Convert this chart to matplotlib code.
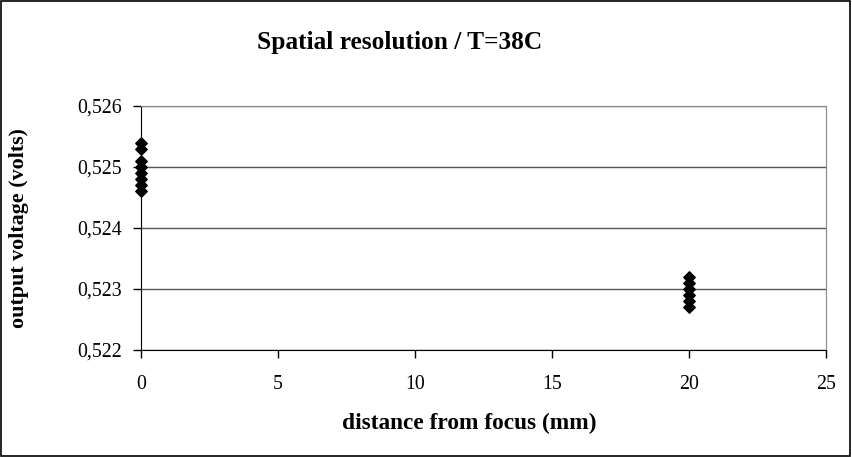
import matplotlib.pyplot as plt
from matplotlib.ticker import FuncFormatter
from matplotlib.patches import Rectangle

# measured output voltage at two distances from focus
dist_0 = [0, 0, 0, 0, 0, 0, 0, 0]
volts_0 = [0.5254, 0.5253, 0.5251, 0.5250, 0.5249, 0.5248, 0.5247, 0.5246]
dist_20 = [20, 20, 20, 20, 20, 20]
volts_20 = [0.5232, 0.5231, 0.5230, 0.5229, 0.5228, 0.5227]

x_ticks = [0, 5, 10, 15, 20, 25]
y_ticks = [0.522, 0.523, 0.524, 0.525, 0.526]

plt.rcParams['font.family'] = ['Liberation Serif', 'DejaVu Serif']

W, H = 852, 457
fig = plt.figure(figsize=(W / 100, H / 100), dpi=100)
fig.patches.append(Rectangle((0.001, 0.002), 0.997, 0.995, transform=fig.transFigure,
                             fill=False, edgecolor='black', linewidth=1.2))
ax = fig.add_axes([141 / W, 1 - 350 / H, 685 / W, 244 / H])

ax.scatter(dist_0 + dist_20, volts_0 + volts_20, marker='D', s=34,
           color='black', zorder=3, clip_on=False)

ax.set_xlim(0, 25)
ax.set_ylim(0.522, 0.526)
ax.set_xticks(x_ticks)
ax.set_yticks(y_ticks)
ax.yaxis.set_major_formatter(FuncFormatter(lambda v, p: f"{v:.3f}".replace('.', ',')))
ax.grid(axis='y', color='#555555', linewidth=1.0)
ax.set_axisbelow(True)

for side in ['top', 'right']:
    ax.spines[side].set_color('#888888')
for side in ['left', 'bottom']:
    ax.spines[side].set_color('black')
ax.tick_params(direction='out', length=6, width=1, labelsize=14.3)
ax.tick_params(axis='x', pad=12)
ax.tick_params(axis='y', pad=8)

fig.text(400 / W, 1 - 43 / H, 'Spatial resolution / T=38C', fontsize=18.3,
         fontweight='bold', ha='center', va='center')
fig.text(469 / W, 1 - 423 / H, 'distance from focus (mm)', fontsize=16.8,
         fontweight='bold', ha='center', va='center')
fig.text(19 / W, 1 - 228 / H, 'output voltage (volts)', fontsize=15.8,
         fontweight='bold', ha='center', va='center', rotation=90)

fig.savefig('out.png', dpi=100)
